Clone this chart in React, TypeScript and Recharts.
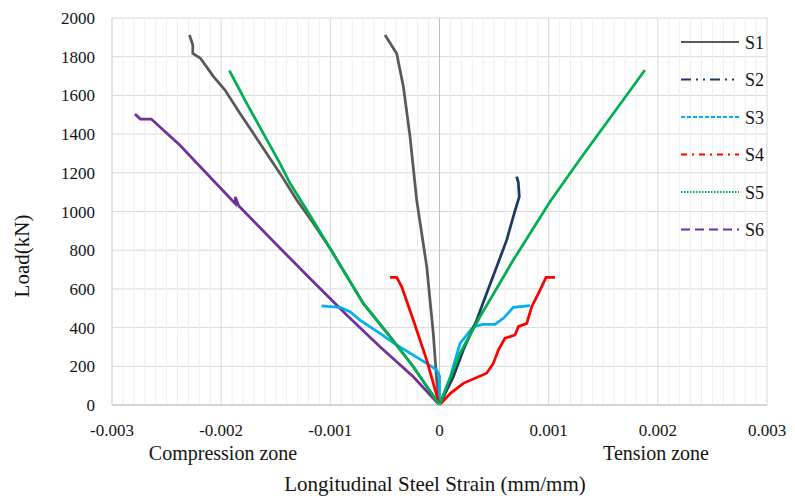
import React from "react";
import { LineChart, Line, XAxis, YAxis, CartesianGrid, ReferenceLine } from "recharts";

type Pt = { strain: number; load: number };
const mk = (pairs: number[][]): Pt[] => pairs.map(([strain, load]) => ({ strain, load }));

// S1 – two gauges
const s1Comp = mk([
  [0, 0], [-0.00024, 198], [-0.000453, 353], [-0.000698, 525], [-0.001003, 810],
  [-0.001156, 939], [-0.001308, 1059], [-0.001461, 1197], [-0.001644, 1352], [-0.001827, 1507],
  [-0.001965, 1628], [-0.00207, 1697], [-0.00219, 1792], [-0.00226, 1817], [-0.00226, 1860],
  [-0.00229, 1912],
]);
const s1Inner = mk([
  [0, 0], [-0.000026, 129], [-0.000057, 370], [-0.000117, 715], [-0.000209, 1059],
  [-0.00027, 1387], [-0.000331, 1645], [-0.000392, 1817], [-0.000499, 1912],
]);
// S2
const s2Ten = mk([
  [0, 0], [0.000127, 146], [0.000218, 284], [0.000341, 439], [0.000432, 577], [0.000524, 715],
  [0.000616, 853], [0.000676, 973], [0.000731, 1077], [0.000722, 1150], [0.000707, 1180],
]);
// S3
const s3Comp = mk([
  [0, 0], [0, 150], [-0.000026, 181], [-0.000117, 215], [-0.00024, 258], [-0.000392, 310],
  [-0.000545, 370], [-0.000728, 439], [-0.00082, 482], [-0.000911, 505], [-0.00108, 512],
]);
const s3Ten = mk([
  [0, 0], [0.0001, 146], [0.000188, 319], [0.00031, 405], [0.0004, 417], [0.000508, 417],
  [0.000585, 448], [0.000676, 505], [0.000829, 513],
]);
// S4
const s4Comp = mk([
  [0, 0], [-0.000117, 232], [-0.00024, 439], [-0.000346, 611], [-0.000392, 660], [-0.000453, 660],
]);
const s4Ten = mk([
  [0, 0], [0.0001, 60], [0.000218, 112], [0.000432, 164], [0.000493, 215], [0.000539, 284],
  [0.0006, 345], [0.000692, 362], [0.000722, 405], [0.000799, 422], [0.000845, 508],
  [0.000921, 594], [0.000976, 660], [0.001058, 660],
]);
// S5
const s5Comp = mk([
  [0, 0], [-0.00024, 198], [-0.000453, 353], [-0.000698, 525], [-0.001003, 810],
  [-0.001216, 1008], [-0.001369, 1146], [-0.001461, 1249], [-0.001614, 1404],
  [-0.001766, 1559], [-0.001925, 1728],
]);
const s5Ten = mk([
  [0, 0], [0.000188, 267], [0.000371, 456], [0.000676, 749], [0.001012, 1050],
  [0.001287, 1270], [0.001882, 1731],
]);
// S6
const s6Comp = mk([
  [0, 0], [-0.00024, 146], [-0.000545, 301], [-0.00085, 465], [-0.001156, 637],
  [-0.00146, 810], [-0.00184, 1030], [-0.00187, 1075], [-0.00187, 1040], [-0.00238, 1344],
  [-0.00264, 1478], [-0.00274, 1478], [-0.00279, 1504],
]);

const xTicks = [-0.003, -0.002, -0.001, 0, 0.001, 0.002, 0.003];
const yTicks = [0, 200, 400, 600, 800, 1000, 1200, 1400, 1600, 1800, 2000];
const minorX: number[] = [];
for (let i = -30; i <= 30; i++) if (i % 10 !== 0) minorX.push(i / 10000);

const legendItems = [
  { name: "S1", color: "#595959", dash: "" },
  { name: "S2", color: "#1f3864", dash: "10 5 2 5 2 5" },
  { name: "S3", color: "#00b0f0", dash: "4 2" },
  { name: "S4", color: "#ff0000", dash: "6 5 2 5" },
  { name: "S5", color: "#00b050", dash: "1.5 1.5" },
  { name: "S6", color: "#7030a0", dash: "9 5" },
];

const font = "Liberation Serif, DejaVu Serif, Noto Serif, Times New Roman, serif";
const textColor = "#141414";

const series: { data: Pt[]; color: string; key: string }[] = [
  { data: s1Comp, color: "#595959", key: "s1a" },
  { data: s1Inner, color: "#595959", key: "s1b" },
  { data: s6Comp, color: "#7030a0", key: "s6" },
  { data: s3Comp, color: "#00b0f0", key: "s3a" },
  { data: s3Ten, color: "#00b0f0", key: "s3b" },
  { data: s2Ten, color: "#1f3864", key: "s2" },
  { data: s4Comp, color: "#ff0000", key: "s4a" },
  { data: s4Ten, color: "#ff0000", key: "s4b" },
  { data: s5Comp, color: "#00b050", key: "s5a" },
  { data: s5Ten, color: "#00b050", key: "s5b" },
];

export default function App() {
  return (
    <div style={{ position: "absolute", left: 0, top: 0, width: 795, height: 504, background: "#fff", fontFamily: font }}>
      <LineChart width={795} height={504} margin={{ top: 18, right: 28, left: 0, bottom: 0 }}>
        {minorX.map((v) => (
          <ReferenceLine key={v} x={v} stroke="#efefef" strokeWidth={1} ifOverflow="extendDomain" />
        ))}
        <CartesianGrid stroke="#d9d9d9" />
        <XAxis
          dataKey="strain"
          type="number"
          domain={[-0.003, 0.003]}
          ticks={xTicks}
          allowDuplicatedCategory={false}
          height={99}
          tickLine={false}
          tickSize={0}
          tickMargin={19}
          axisLine={{ stroke: "#bfbfbf" }}
          tick={{ fontSize: 17, fontFamily: font, fill: textColor }}
        />
        <YAxis
          type="number"
          domain={[0, 2000]}
          ticks={yTicks}
          width={112}
          tickLine={false}
          tickSize={0}
          tickMargin={17}
          axisLine={{ stroke: "#d9d9d9" }}
          tick={{ fontSize: 17, fontFamily: font, fill: textColor }}
        />
        <ReferenceLine x={0} stroke="#bfbfbf" />
        {series.map((s) => (
          <Line
            key={s.key}
            data={s.data}
            dataKey="load"
            type="linear"
            stroke={s.color}
            strokeWidth={2.75}
            dot={false}
            activeDot={false}
            isAnimationActive={false}
            legendType="none"
          />
        ))}
      </LineChart>
      <svg width={110} height={230} style={{ position: "absolute", left: 675, top: 22 }}>
        {legendItems.map((it, i) => (
          <g key={it.name} transform={`translate(0, ${20 + i * 37.5})`}>
            <line x1={6} x2={64} y1={0} y2={0} stroke={it.color} strokeWidth={2} strokeDasharray={it.dash || undefined} />
            <text x={70} y={6.5} fontSize={18} fontFamily={font} fill={textColor}>{it.name}</text>
          </g>
        ))}
      </svg>
      <div style={{ position: "absolute", left: 0, top: 0, width: 795, height: 504, pointerEvents: "none", color: textColor }}>
        <div style={{ position: "absolute", left: 123, width: 200, top: 443, fontSize: 20, lineHeight: "20px", textAlign: "center", whiteSpace: "nowrap" }}>
          Compression zone
        </div>
        <div style={{ position: "absolute", left: 556, width: 200, top: 443, fontSize: 20, lineHeight: "20px", textAlign: "center", whiteSpace: "nowrap" }}>
          Tension zone
        </div>
        <div style={{ position: "absolute", left: 235, width: 400, top: 474, fontSize: 21, lineHeight: "21px", textAlign: "center", whiteSpace: "nowrap" }}>
          Longitudinal Steel Strain (mm/mm)
        </div>
        <div
          style={{
            position: "absolute",
            left: 22,
            top: 256,
            fontSize: 21,
            lineHeight: "21px",
            whiteSpace: "nowrap",
            transform: "translate(-50%, -50%) rotate(-90deg)",
          }}
        >
          Load(kN)
        </div>
      </div>
    </div>
  );
}
